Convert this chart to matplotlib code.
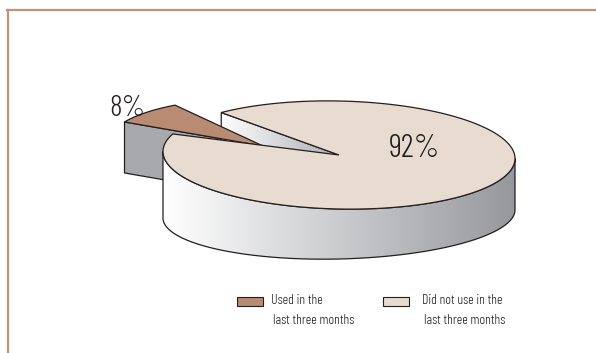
import numpy as np
import matplotlib
matplotlib.use("Agg")
import matplotlib.pyplot as plt
from matplotlib.patches import Polygon, Rectangle
from matplotlib.lines import Line2D
from matplotlib import font_manager

# ---- data -------------------------------------------------------------
categories = ["Used in the\nlast three months", "Did not use in the\nlast three months"]
shares = [8, 92]
pct_labels = ["8%", "92%"]
slice_colors = ["#B98B72", "#E8DBCF"]

# ---- fonts ------------------------------------------------------------
installed = {f.name for f in font_manager.fontManager.ttflist}
FONT = ["Barlow Condensed", "DejaVu Sans"] if "Barlow Condensed" in installed else ["DejaVu Sans"]

W, H = 596, 353
fig = plt.figure(figsize=(W / 100, H / 100), dpi=100)
ax = fig.add_axes([0, 0, 1, 1])

EDGE = "#231F20"
LW = 0.9

# ---- pie geometry (pixel space) ----------------------------------------
CX, CY = 339.0, 155.0          # centre of the top face
A, B, T = 176.0, 54.0, 3.5     # top ellipse semi-axes and tilt
CY2, B2, T2 = 214.0, 45.0, -4.0  # bottom rim ellipse
GAP_START = 132.0              # angle where the large slice ends
SMALL_ROT = 124.6              # orientation of the pulled-out slice
SMALL_R = 0.88
SMALL_OFFSET = (-76.0, -9.0)
SMALL_DEPTH = 51.0
BIG_DEPTH = 56.0

spans = [360.0 * s / sum(shares) for s in shares]


def top_pts(cx, cy, th_deg, r=1.0):
    th = np.radians(th_deg)
    return np.column_stack([cx + A * r * np.cos(th),
                            cy - B * r * np.sin(th) + T * r * np.cos(th)])


def bottom_pts(th_deg):
    th = np.radians(th_deg)
    return np.column_stack([CX + A * np.cos(th),
                            CY2 - B2 * np.sin(th) + T2 * np.cos(th)])


def gradient_patch(xy, x0, x1, c0, c1, z):
    poly = Polygon(xy, closed=True, facecolor="none", edgecolor=EDGE, lw=LW, zorder=z + 0.1)
    ax.add_patch(poly)
    t = np.linspace(0, 1, 256)
    c0 = np.array(c0) / 255.0
    c1 = np.array(c1) / 255.0
    img = (c0[None, :] * (1 - t[:, None]) + c1[None, :] * t[:, None])[None, :, :]
    ymin, ymax = xy[:, 1].min(), xy[:, 1].max()
    im = ax.imshow(img, extent=(x0, x1, ymax + 1, ymin - 1), aspect="auto",
                   interpolation="bilinear", zorder=z)
    im.set_clip_path(Polygon(xy, closed=True, transform=ax.transData))


# small slice (pulled out)
small_span, big_span = spans
sx, sy = CX + SMALL_OFFSET[0], CY + SMALL_OFFSET[1]
s_arc = top_pts(sx, sy, np.linspace(SMALL_ROT, SMALL_ROT + small_span, 30), SMALL_R)
s_corner = s_arc[-1]
# radial face facing the viewer
face = np.array([[sx, sy], s_corner, s_corner + [0, SMALL_DEPTH], [sx, sy + SMALL_DEPTH]])
ax.add_patch(Polygon(face, closed=True, facecolor="#A7A9AC", edgecolor=EDGE, lw=LW, zorder=2))

# large slice: radial cut face at the end of its sweep
big_lo = GAP_START + small_span
big_hi = GAP_START + 360.0
rim_end = top_pts(CX, CY, [big_hi])[0]
wface = np.array([[CX, CY], rim_end, rim_end + [0, BIG_DEPTH], [CX, CY + BIG_DEPTH]])
gradient_patch(wface, rim_end[0], CX, (255, 255, 255), (172, 174, 178), 3)

# brown top of the small slice
ax.add_patch(Polygon(np.vstack([[sx, sy], s_arc]), closed=True,
                     facecolor=slice_colors[0], edgecolor=EDGE, lw=LW, zorder=4))

# outer wall of the large slice (front half)
front = np.linspace(180, 360, 120)
wall = np.vstack([top_pts(CX, CY, front), bottom_pts(front[::-1])])
gradient_patch(wall, CX - A, CX + A, (255, 255, 255), (150, 152, 157), 5)

# top face of the large slice
b_arc = top_pts(CX, CY, np.linspace(big_lo, big_hi, 240))
ax.add_patch(Polygon(np.vstack([[CX, CY], b_arc]), closed=True,
                     facecolor=slice_colors[1], edgecolor=EDGE, lw=LW, zorder=7))

# percentage labels
ax.text(127, 109, pct_labels[0], fontsize=21.5, family=FONT, fontweight=300, color=EDGE,
        ha="center", va="center", zorder=9)
ax.text(415, 149, pct_labels[1], fontsize=23.5, family=FONT, fontweight=300, color=EDGE,
        ha="center", va="center", zorder=9)

# legend
leg_boxes = [(237, 297), (383, 297)]
leg_text = [(271, 301), (422, 301)]
for (bx, by), (tx, ty), lab, col in zip(leg_boxes, leg_text, categories, slice_colors):
    ax.add_patch(Rectangle((bx, by), 26, 9, facecolor=col, edgecolor=EDGE, lw=0.8, zorder=9))
    for k, part in enumerate(lab.split("\n")):
        ax.text(tx + 2 * k, ty + 19 * k, part, fontsize=10, family=FONT, fontweight=300,
                color=EDGE, ha="left", va="center", zorder=9)

# frame
FRAME = "#C0937A"
ax.add_line(Line2D([7, W], [10, 10], color=FRAME, lw=1.6, zorder=10))
ax.add_line(Line2D([8, 8], [10, H], color=FRAME, lw=1.6, zorder=10))

ax.set_xlim(0, W)
ax.set_ylim(H, 0)
ax.axis("off")
fig.savefig("out.png", dpi=100, facecolor="white")
